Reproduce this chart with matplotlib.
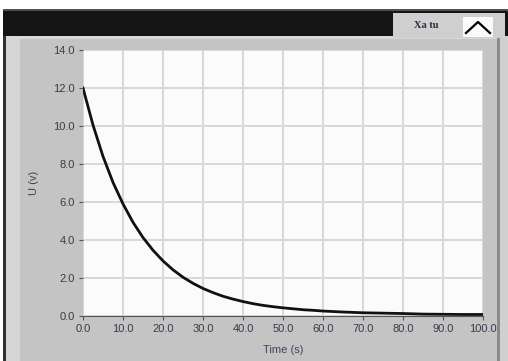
import matplotlib.pyplot as plt
from matplotlib.patches import Rectangle

# Capacitor discharge curve
time_s = [0, 2.5, 5, 7.5, 10, 12.5, 15, 17.5, 20, 22.5, 25, 27.5, 30, 32.5, 35,
          37.5, 40, 42.5, 45, 47.5, 50, 52.5, 55, 57.5, 60, 65, 70, 75, 80,
          85, 90, 95, 100]
voltage = [12.0, 10.05, 8.4, 7.03, 5.9, 4.93, 4.13, 3.46, 2.9, 2.43, 2.04, 1.72,
           1.45, 1.23, 1.04, 0.89, 0.76, 0.65, 0.56, 0.49, 0.43, 0.38, 0.33,
           0.3, 0.26, 0.21, 0.17, 0.15, 0.13, 0.1, 0.09, 0.08, 0.08]
x_ticks = [0, 10, 20, 30, 40, 50, 60, 70, 80, 90, 100]
y_ticks = [0, 2, 4, 6, 8, 10, 12, 14]
button_text = "Xa tu"

W, H = 508, 361
fig = plt.figure(figsize=(W / 100, H / 100), dpi=100)
fig.patch.set_facecolor("#c4c4c4")
plt.rcParams['font.family'] = ['Liberation Sans', 'DejaVu Sans']

def px_rect(x0, y0, x1, y1, color, z=0):
    #rectangle given in pixel coords measured from top left
    fig.patches.append(Rectangle((x0 / W, 1 - y1 / H), (x1 - x0) / W, (y1 - y0) / H,
                                 transform=fig.transFigure, facecolor=color,
                                 edgecolor="none", zorder=z))

#frame pieces
px_rect(0, 0, W, 9, "white")
px_rect(0, 0, 3, H, "white")
px_rect(3, 9, 6, H, "#303030")
px_rect(6, 36, 20, H, "#d6d6d6")
px_rect(497, 36, 500, H, "#8a8a8a")
px_rect(500, 36, W, H, "#d0d0d0")
px_rect(3, 9, W, 11, "#505050")
px_rect(3, 11, W, 36, "#141414")
px_rect(6, 36, 497, 39, "#d8d8d8")
#button area on the black bar
px_rect(393, 13, 505, 38, "#cfcfcf", 1)
px_rect(463, 17, 493, 37, "#fafafa", 2)
fig.text(426 / W, 1 - 25 / H, button_text, fontsize=7.5, fontweight="bold",
         family="Liberation Serif", color="#2a2a40", ha="center", va="center")
fig.lines.append(plt.Line2D([466 / W, 478 / W, 490 / W],
                            [1 - 33 / H, 1 - 22 / H, 1 - 33 / H],
                            transform=fig.transFigure, color="black", lw=1.6, zorder=3))

ax = fig.add_axes([83 / W, 1 - 316 / H, 400 / W, 266 / H])
ax.set_facecolor("#fbfbfb")
ax.plot(time_s, voltage, color="#111111", lw=2.0)
ax.set_xlim(0, 100)
ax.set_ylim(0, 14)
ax.set_xticks(x_ticks)
ax.set_xticklabels([f"{v:.1f}" for v in x_ticks])
ax.set_yticks(y_ticks)
ax.set_yticklabels([f"{v:.1f}" for v in y_ticks])
ax.grid(True, color="#d9d9d9", lw=1.4)
ax.set_axisbelow(True)
for s in ["top", "right", "left"]:
    ax.spines[s].set_visible(False)
ax.spines["bottom"].set_color("#555555")
ax.tick_params(labelsize=8, labelcolor="#3a3a4c", color="#555555",
               length=3, width=0.8, pad=3)
ax.set_xlabel("Time (s)", fontsize=8, color="#40405a", labelpad=8)
ax.set_ylabel("U (v)", fontsize=8, color="#40405a", labelpad=10)

fig.savefig("out.png", dpi=100, facecolor=fig.get_facecolor())
